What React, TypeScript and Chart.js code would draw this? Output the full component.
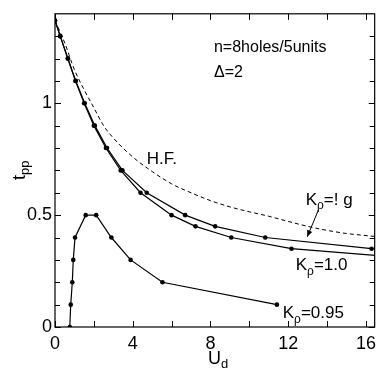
import React, { useEffect, useRef } from "react";
import { Chart, registerables } from "chart.js";

Chart.register(...registerables);

// K_rho = 0.95
const k095X = [0.76, 0.81, 0.89, 0.94, 1.03, 1.58, 2.12, 2.9, 3.89, 5.53, 11.42];
const k095Y = [0, 0.1, 0.2, 0.3, 0.4, 0.5, 0.5, 0.4, 0.3, 0.2, 0.1];

// K_rho = 1.0 (lower curve)
const k10X = [0, 0.27, 0.66, 1.05, 1.5, 2.0, 2.62, 3.38, 4.4, 6.0, 7.23, 9.07, 12.17, 18.0];
const k10Y = [1.37, 1.3, 1.2, 1.1, 1.0, 0.9, 0.8, 0.7, 0.6, 0.5, 0.45, 0.4, 0.35, 0.31];

// K_rho = infinity (upper curve)
const kInfX = [0, 0.27, 0.66, 1.07, 1.53, 2.05, 2.68, 3.47, 4.72, 6.7, 8.24, 10.82, 16.29, 18.0];
const kInfY = [1.37, 1.3, 1.2, 1.1, 1.0, 0.9, 0.8, 0.7, 0.6, 0.5, 0.45, 0.4, 0.35, 0.338];

// Hartree-Fock (dashed)
const hfX = [0, 0.5, 1, 1.5, 2, 2.5, 3, 4, 5, 6, 7, 8, 9, 10, 11, 12, 13, 14, 15, 16.45];
const hfY = [1.37, 1.27, 1.15, 1.06, 0.98, 0.9, 0.845, 0.76, 0.695, 0.64, 0.6, 0.565, 0.537, 0.515, 0.495, 0.472, 0.45, 0.432, 0.418, 0.405];

const xTickLabels = ["0", "4", "8", "12", "16"];
const yTickLabels = ["0", "0.5", "1"];

const X_MIN = 0, X_MAX = 16.45, Y_MIN = 0, Y_MAX = 1.4;

const FONT = "'Liberation Sans', Arial, sans-serif";

const zip = (xs: number[], ys: number[]) => xs.map((x, i) => ({ x, y: ys[i] }));

export default function App() {
  const ref = useRef<HTMLCanvasElement | null>(null);

  useEffect(() => {
    document.body.style.margin = "0";
    const canvas = ref.current;
    if (!canvas) return;

    const decor = {
      id: "decor",
      afterDraw(chart: any) {
        const ctx = chart.ctx;
        const ca = chart.chartArea;
        const xs = chart.scales.x;
        const ys = chart.scales.y;
        ctx.save();
        // frame
        ctx.strokeStyle = "#000";
        ctx.lineWidth = 1.2;
        ctx.strokeRect(ca.left, ca.top, ca.right - ca.left, ca.bottom - ca.top);
        // inward ticks
        ctx.lineWidth = 1;
        ctx.beginPath();
        for (let v = 0; v <= X_MAX + 1e-6; v += 2) {
          const px = Math.round(xs.getPixelForValue(v)) + 0.5;
          ctx.moveTo(px, ca.bottom); ctx.lineTo(px, ca.bottom - 6);
          ctx.moveTo(px, ca.top); ctx.lineTo(px, ca.top + 6);
        }
        for (let i = 0; i <= 13; i++) {
          const v = i / 10;
          const py = Math.round(ys.getPixelForValue(v)) + 0.5;
          const len = i % 5 === 0 ? 6 : 5;
          ctx.moveTo(ca.left, py); ctx.lineTo(ca.left + len, py);
          ctx.moveTo(ca.right, py); ctx.lineTo(ca.right - len, py);
        }
        ctx.stroke();

        const X = (v: number) => xs.getPixelForValue(v);
        const Y = (v: number) => ys.getPixelForValue(v);

        ctx.fillStyle = "#000";
        ctx.textBaseline = "middle";
        ctx.textAlign = "left";
        ctx.font = `16px ${FONT}`;
        ctx.fillText("n=8holes/5units", X(8.18), Y(1.247));
        ctx.fillText("\u0394=2", X(8.18), Y(1.135));
        ctx.font = `17px ${FONT}`;
        ctx.fillText("H.F.", X(4.72), Y(0.748));

        const kLabel = (x: number, y: number, rest: string) => {
          let px = X(x);
          const py = Y(y);
          ctx.font = `17px ${FONT}`;
          ctx.fillText("K", px, py);
          px += ctx.measureText("K").width;
          ctx.font = `12px ${FONT}`;
          ctx.fillText("\u03c1", px, py + 6);
          px += ctx.measureText("\u03c1").width;
          ctx.font = `17px ${FONT}`;
          ctx.fillText(rest, px, py);
        };
        kLabel(12.9, 0.567, "=! g");
        kLabel(12.39, 0.275, "=1.0");
        kLabel(11.72, 0.06, "=0.95");

        // arrow
        const ax1 = X(13.56), ay1 = Y(0.524), ax2 = X(12.98), ay2 = Y(0.403);
        ctx.lineWidth = 1;
        ctx.beginPath();
        ctx.moveTo(ax1, ay1); ctx.lineTo(ax2, ay2);
        ctx.stroke();
        const ang = Math.atan2(ay2 - ay1, ax2 - ax1);
        const hl = 7, hw = 0.4;
        ctx.beginPath();
        ctx.moveTo(ax2, ay2);
        ctx.lineTo(ax2 - hl * Math.cos(ang - hw), ay2 - hl * Math.sin(ang - hw));
        ctx.lineTo(ax2 - hl * Math.cos(ang + hw), ay2 - hl * Math.sin(ang + hw));
        ctx.closePath();
        ctx.fill();

        // axis titles
        ctx.font = `18px ${FONT}`;
        ctx.textAlign = "left";
        const ux = 208, uy = 359;
        ctx.fillText("U", ux, uy);
        const uw = ctx.measureText("U").width;
        ctx.font = `13px ${FONT}`;
        ctx.fillText("d", ux + uw, uy + 5);

        ctx.translate(20, 180);
        ctx.rotate(-Math.PI / 2);
        ctx.font = `18px ${FONT}`;
        ctx.fillText("t", 0, 0);
        const tw = ctx.measureText("t").width;
        ctx.font = `13px ${FONT}`;
        ctx.fillText("pp", tw, 5);
        ctx.restore();
      },
    };

    const lineBase = {
      borderColor: "#000",
      backgroundColor: "#000",
      borderWidth: 1.2,
      pointRadius: 2.3,
      pointHoverRadius: 2.3,
      pointBorderWidth: 0,
      fill: false,
      tension: 0,
    };

    const chart = new Chart(canvas, {
      type: "scatter",
      data: {
        datasets: [
          { ...lineBase, data: zip(hfX, hfY), showLine: true, pointRadius: 0, borderDash: [4, 3], borderWidth: 1, cubicInterpolationMode: "monotone" } as any,
          { ...lineBase, data: zip(k10X, k10Y), showLine: true, pointRadius: k10X.map((x) => (x > X_MAX ? 0 : 2.3)) } as any,
          { ...lineBase, data: zip(kInfX, kInfY), showLine: true, pointRadius: kInfX.map((x) => (x > X_MAX ? 0 : 2.3)) } as any,
          { ...lineBase, data: zip(k095X, k095Y), showLine: true } as any,
        ],
      },
      options: {
        animation: false,
        responsive: false,
        maintainAspectRatio: false,
        layout: { padding: { left: 0, right: 2, top: 1, bottom: 0 } },
        plugins: { legend: { display: false }, tooltip: { enabled: false } },
        scales: {
          x: {
            type: "linear",
            min: X_MIN,
            max: X_MAX,
            grid: { display: false, drawTicks: false },
            border: { display: false },
            afterBuildTicks: (s: any) => {
              s.ticks = xTickLabels.map((l) => ({ value: Number(l) }));
            },
            ticks: {
              autoSkip: false,
              maxRotation: 0,
              padding: 6,
              color: "#000",
              font: { family: FONT, size: 18 },
              callback: (v: any) => String(v),
            },
            afterFit: (s: any) => { s.height = 47; },
          },
          y: {
            type: "linear",
            min: Y_MIN,
            max: Y_MAX,
            grid: { display: false, drawTicks: false },
            border: { display: false },
            afterBuildTicks: (s: any) => {
              s.ticks = yTickLabels.map((l) => ({ value: Number(l) }));
            },
            ticks: {
              autoSkip: false,
              padding: 3,
              color: "#000",
              font: { family: FONT, size: 18 },
              callback: (v: any) => String(v),
            },
            afterFit: (s: any) => { s.width = 55; },
          },
        },
      } as any,
      plugins: [decor],
    });
    return () => chart.destroy();
  }, []);

  return (
    <div style={{ width: 382, height: 374, background: "#fff" }}>
      <canvas ref={ref} width={382} height={374} style={{ display: "block" }} />
    </div>
  );
}
